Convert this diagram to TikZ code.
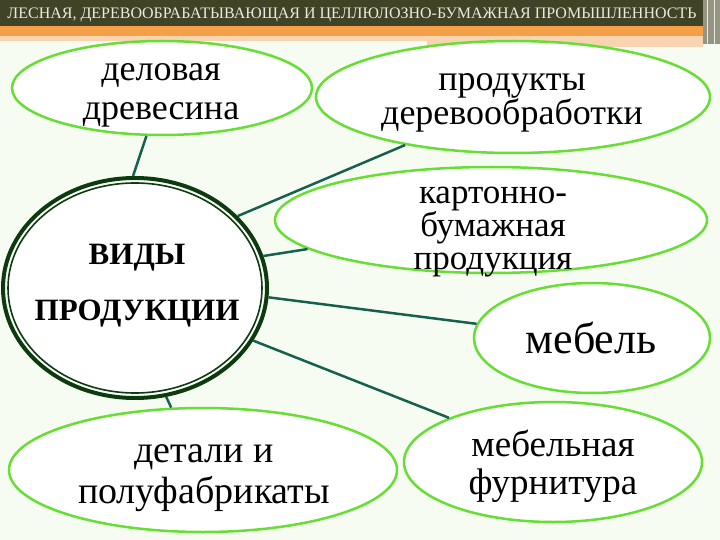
\documentclass[tikz,border=0pt]{standalone}
\usepackage{fontspec}
\setmainfont{Liberation Serif}
\usetikzlibrary{shapes.geometric}
\definecolor{leafgreen}{RGB}{102,222,51}
\definecolor{hubgreen}{RGB}{12,60,14}
\definecolor{linkteal}{RGB}{22,96,78}
\definecolor{barolive}{RGB}{64,67,38}
\definecolor{barorange}{RGB}{243,160,72}
\definecolor{barpeach}{RGB}{248,212,176}
\definecolor{bartext}{RGB}{234,234,222}
\definecolor{barstrip}{RGB}{150,148,130}
\definecolor{paper}{RGB}{247,252,243}

\begin{document}
\begin{tikzpicture}[x=1pt, y=-1pt,
    leaf/.style={ellipse, draw=leafgreen, line width=2.5pt, fill=white, inner sep=0pt},
    hub/.style={ellipse, draw=hubgreen, line width=4pt, fill=white, inner sep=0pt},
    link/.style={draw=linkteal, line width=2.5pt},
    txt/.style={align=center, inner sep=0pt, text=black}]
    \useasboundingbox (0,0) rectangle (720,540);
    \fill[paper] (0,0) rectangle (720,540);

    \fill[barolive] (0,0) rectangle (720,26);
    \fill[barorange] (0,26) rectangle (720,36);
    \fill[barpeach] (0,36) rectangle (720,41);
    \fill[barpeach] (427,36) rectangle (703,47);
    \fill[barstrip] (703,0) rectangle (720,44);
    \draw[bartext, line width=1pt] (707,0) -- (707,44) (714,0) -- (714,44);
    \node[anchor=base, text=bartext, inner sep=0pt, font=\fontsize{16}{16}\selectfont] (title) at (352,18.5)
        {ЛЕСНАЯ, ДЕРЕВООБРАБАТЫВАЮЩАЯ И ЦЕЛЛЮЛОЗНО-БУМАЖНАЯ ПРОМЫШЛЕННОСТЬ};

    \node[hub, minimum width=264pt, minimum height=220pt] (vid) at (135,288) {};
    \draw[hubgreen, line width=1.6pt] (vid.center) ellipse [x radius=127pt, y radius=105pt];

    \node[leaf, minimum width=300pt, minimum height=94pt] (del) at (162,88) {};
    \node[leaf, minimum width=394pt, minimum height=112pt] (der) at (513,97) {};
    \node[leaf, minimum width=432pt, minimum height=106pt] (kart) at (491,220) {};
    \node[leaf, minimum width=236pt, minimum height=110pt] (meb) at (592,338) {};
    \node[leaf, minimum width=298pt, minimum height=120pt] (fur) at (553,462) {};
    \node[leaf, minimum width=388pt, minimum height=124pt] (det) at (203,470) {};

    \draw[link] (vid.91) -- (del.252);
    \draw[link] (vid.35) -- (der.204);
    \draw[link] (vid.14) -- (kart.189);
    \draw[link] (vid.-4) -- (meb.173);
    \draw[link] (vid.-24) -- (fur.157);
    \draw[link] (vid.-74) -- (det.117);

    \node[txt, font=\bfseries\fontsize{31}{56}\selectfont] (vidT) at (137,286) {ВИДЫ\\ПРОДУКЦИИ};
    \node[txt, font=\fontsize{36}{39}\selectfont] (delT) at (161,95) {деловая\\древесина};
    \node[txt, font=\fontsize{36}{30}\selectfont] (derT) at (512,103) {продукты\\деревообработки};
    \node[txt, font=\fontsize{35}{33}\selectfont] (kartT) at (493,232) {картонно-\\бумажная\\продукция};
    \node[txt, anchor=base, font=\fontsize{44}{44}\selectfont] (mebT) at (591,353) {мебель};
    \node[txt, font=\fontsize{37}{38}\selectfont] (furT) at (553,466) {мебельная\\фурнитура};
    \node[txt, font=\fontsize{38}{41}\selectfont] (detT) at (204,478) {детали и\\полуфабрикаты};
\end{tikzpicture}
\end{document}
